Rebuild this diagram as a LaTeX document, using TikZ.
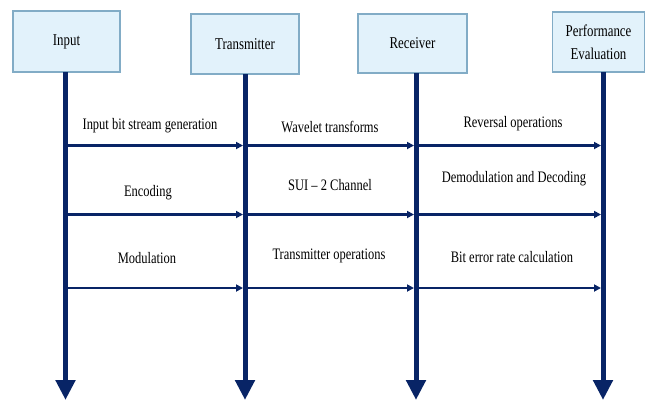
\documentclass[tikz,border=0pt]{standalone}
\usepackage{fontspec}
\setmainfont[FakeStretch=0.78]{Liberation Serif}
\usetikzlibrary{arrows.meta}
\definecolor{navy}{RGB}{8,36,102}
\definecolor{boxfill}{RGB}{226,242,251}
\definecolor{boxline}{RGB}{130,172,198}
\tikzset{
  actor/.style={draw=boxline, fill=boxfill, line width=1.2pt, align=center, font=\fontsize{16.5}{23}\selectfont, inner sep=0pt},
  lifeline/.style={navy, line width=5pt, -{Triangle[width=19pt,length=20pt]}},
  msg/.style={navy, line width=2.6pt, -{Triangle[width=7pt,length=7pt]}, shorten >=2pt},
  lbl/.style={font=\fontsize{16}{19}\selectfont, text=black, inner sep=0pt}
}
\begin{document}
\begin{tikzpicture}[x=1pt,y=-1pt]
\useasboundingbox (0,0) rectangle (646,400);
% boxes
\node[actor, minimum width=107pt, minimum height=61pt] (inp) at (66.5,41.5) {Input};
\node[actor, minimum width=108pt, minimum height=60pt] (tx) at (245,44) {Transmitter};
\node[actor, minimum width=109pt, minimum height=59pt] (rx) at (412.5,43.5) {Receiver};
\node[actor, minimum width=92pt, minimum height=60pt] (pe) at (598.5,42) {Performance\\Evaluation};
% lifeline ends
\coordinate (e1) at (65.5,400);
\coordinate (e2) at (245,400);
\coordinate (e3) at (416,400);
\coordinate (e4) at (603,400);
\coordinate (s1) at (65.5,72);
\coordinate (s2) at (245,74);
\coordinate (s3) at (416,73);
\coordinate (s4) at (603,72);
\draw[lifeline] (s1) -- (e1);
\draw[lifeline] (s2) -- (e2);
\draw[lifeline] (s3) -- (e3);
\draw[lifeline] (s4) -- (e4);
% row coordinates
\foreach \n/\x in {1/65.5,2/245,3/416,4/603}{
  \coordinate (a\n) at (\x,145.5);
  \coordinate (b\n) at (\x,214.5);
  \coordinate (c\n) at (\x,288);
}
\draw[msg] (a1) -- (a2);
\draw[msg] (a2) -- (a3);
\draw[msg] (a3) -- (a4);
\draw[msg] (b1) -- (b2);
\draw[msg] (b2) -- (b3);
\draw[msg] (b3) -- (b4);
\draw[msg] (c1) -- (c2);
\draw[msg] (c2) -- (c3);
\draw[msg] (c3) -- (c4);
% labels
\node[lbl] (l1) at (150,126) {Input bit stream generation};
\node[lbl] (l2) at (330,127) {Wavelet transforms};
\node[lbl] (l3) at (513,124) {Reversal operations};
\node[lbl] (l4) at (148,193) {Encoding};
\node[lbl] (l5) at (330,185) {SUI -- 2 Channel};
\node[lbl] (l6) at (514,179) {Demodulation and Decoding};
\node[lbl] (l7) at (147,258) {Modulation};
\node[lbl] (l8) at (329,256) {Transmitter operations};
\node[lbl] (l9) at (512,257) {Bit error rate calculation};
\end{tikzpicture}
\end{document}
